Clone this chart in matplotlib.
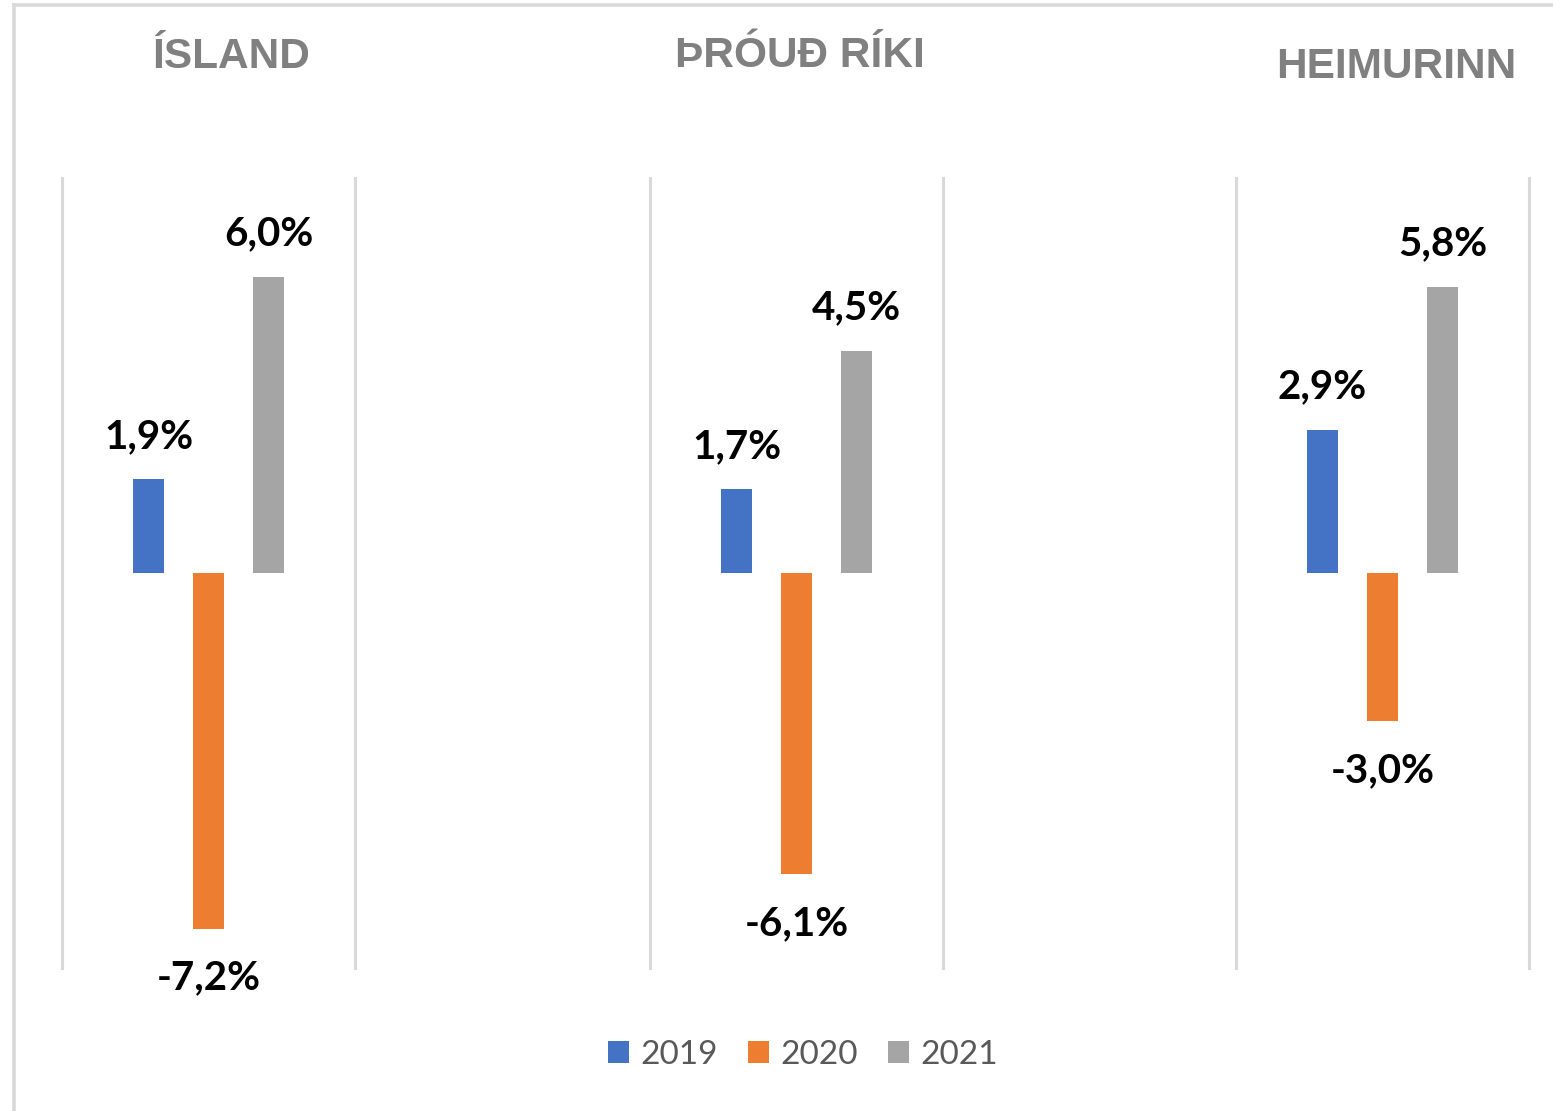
import matplotlib
matplotlib.use("Agg")
import matplotlib.pyplot as plt
from matplotlib.lines import Line2D
import numpy as np

regions = ["ÍSLAND", "ÞRÓUÐ RÍKI", "HEIMURINN"]
years = ["2019", "2020", "2021"]
v2019 = [1.9, 1.7, 2.9]
v2020 = [-7.2, -6.1, -3.0]
v2021 = [6.0, 4.5, 5.8]
colors = ["#4472C4", "#ED7D31", "#A5A5A5"]

W, H = 1553, 1111
fig = plt.figure(figsize=(W / 100, H / 100), dpi=100)
fig.patch.set_facecolor("white")

ax_lefts = [62, 650, 1236]
ax_w = 293
ax_top, ax_bot = 178, 968
title_pos = [(231.5, 68), (799.5, 67), (1396.5, 78)]

series = [v2019, v2020, v2021]
xpos = np.array([-1.0, 0.0, 1.0])
handles = []
for i, reg in enumerate(regions):
    ax = fig.add_axes([ax_lefts[i] / W, 1 - ax_bot / H, ax_w / W, (ax_bot - ax_top) / H])
    for j, yr in enumerate(years):
        v = series[j][i]
        b = ax.bar(xpos[j], v, width=0.52, color=colors[j], label=yr)
        if i == 0:
            handles.append(b)
        lab = f"{v:.1f}".replace(".", ",") + "%"
        off = 22.5 if v >= 0 else -44
        ax.annotate(lab, xy=(xpos[j], v), xytext=(0, off), textcoords="offset points",
                    ha="center", va="baseline", fontsize=29, fontweight="bold",
                    family="Lato", color="black")
    ax.set_xlim(-2.44, 2.44)
    ax.set_ylim(-8, 8)
    ax.set_xticks([])
    ax.set_yticks([])
    for s in ["top", "bottom"]:
        ax.spines[s].set_visible(False)
    for s in ["left", "right"]:
        ax.spines[s].set_color("#d9d9d9")
        ax.spines[s].set_linewidth(2.2)
    ax.patch.set_alpha(0)
    tx, ty = title_pos[i]
    fig.text(tx / W, 1 - ty / H, reg, ha="center", va="baseline", fontsize=30.5,
             fontweight="bold", family="Liberation Sans", color="#808080")

leg = fig.legend(handles=handles, labels=years, loc="center",
                 bbox_to_anchor=(803 / W, 1 - 1055 / H), ncol=3, frameon=False,
                 prop={"family": "Lato", "size": 24}, labelcolor="#595959",
                 handlelength=0.62, handleheight=0.62, handletextpad=0.35,
                 columnspacing=0.9)

# outer border (left and top edges visible)
fig.add_artist(Line2D([14 / W, 14 / W], [0, 1 - 5 / H], transform=fig.transFigure,
                      color="#d9d9d9", linewidth=2.6))
fig.add_artist(Line2D([14 / W, 1], [1 - 5 / H, 1 - 5 / H], transform=fig.transFigure,
                      color="#d9d9d9", linewidth=2.6))

fig.savefig("out.png", dpi=100)
